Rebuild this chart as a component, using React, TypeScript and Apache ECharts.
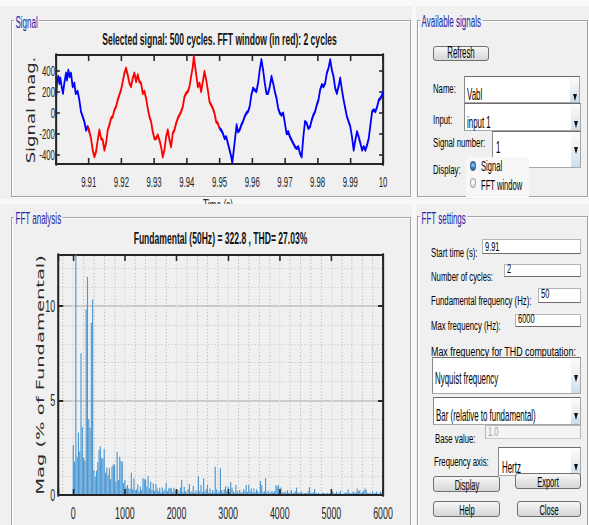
import React, { useEffect, useRef } from 'react';
import * as echarts from 'echarts';

// ---------------- data ----------------
const sigTitle = 'Selected signal: 500 cycles. FFT window (in red): 2 cycles';
const fftTitle = 'Fundamental (50Hz) = 322.8 , THD= 27.03%';
const sigStart = 9.9; // s
const fftStart = 9.91;
const fftEnd = 9.95;
// time offsets (ms after 9.90 s) and signal values
const signalTimeMs = [
  0, 0.31, 0.71, 1.02, 1.33, 1.73, 2.14, 2.55, 3.06, 3.37, 3.78, 4.18, 4.59, 5.1, 5.61, 6.02, 6.63, 7.14, 7.65, 8.16,
  8.67, 9.18, 9.69, 10.2, 10.71, 11.22, 11.73, 12.24, 12.76, 13.27, 13.78, 14.29, 14.8, 15.31, 15.82, 16.33, 16.84,
  17.35, 17.86, 18.37, 18.88, 19.39, 19.9, 20.41, 20.92, 21.43, 21.94, 22.45, 22.96, 23.47, 23.98, 24.49, 25.0, 25.51,
  26.02, 26.53, 27.04, 27.55, 28.06, 28.57, 29.08, 29.59, 30.1, 30.61, 31.12, 31.63, 32.14, 32.65, 33.16, 33.67, 34.18,
  34.69, 35.2, 35.71, 36.22, 36.73, 37.24, 37.76, 38.27, 38.78, 39.29, 39.8, 40.31, 40.82, 41.33, 41.84, 42.14, 42.55,
  42.96, 43.37, 43.88, 44.39, 44.9, 45.41, 45.92, 46.43, 46.94, 47.45, 47.96, 48.47, 48.98, 49.49, 50.0,
  50.51, 51.03, 51.54, 52.05, 52.56, 53.08, 53.59, 53.9, 54.31, 54.82, 55.23, 55.64, 56.15, 56.67, 57.18, 57.69, 58.21,
  58.72, 59.23, 59.74, 60.26, 60.77, 61.28, 61.79, 62.31, 62.82, 63.33, 63.85, 64.36, 64.87, 65.38, 65.9, 66.41, 66.92,
  67.44, 67.95, 68.46, 68.97, 69.49, 70.0, 70.51, 71.03, 71.54, 72.05, 72.56, 73.08, 73.59, 74.1, 74.62, 75.13, 75.64,
  76.15, 76.67, 77.18, 77.69, 78.21, 78.72, 79.23, 79.74, 80.26, 80.77, 81.28, 81.79, 82.31, 82.82, 83.33, 83.85, 84.36,
  84.87, 85.38, 85.9, 86.41, 86.92, 87.44, 87.95, 88.46, 88.97, 89.49, 90.0, 90.51, 91.03, 91.54, 92.05, 92.56, 93.08,
  93.59, 94.1, 94.62, 95.13, 95.64, 96.15, 96.67, 97.18, 97.69, 98.21, 98.72, 99.23, 99.74, 100.0,
];
const signalValue = [
  137, 297, 345, 281, 329, 249, 185, 281, 376, 313, 402, 345, 376, 249, 281, 185, 201, 121, 10, -38,
  -86, -166, -134, -182, -246, -357, -421, -373, -262, -166, -246, -262, -357, -293, -166, -118, -54,
  -38, 26, 57, 121, 169, 217, 297, 376, 424, 360, 281, 249, 329, 376, 297, 360, 297,
  281, 185, 201, 137, 41, -38, -86, -182, -246, -246, -214, -262, -325, -421, -357, -230, -166,
  -262, -325, -198, -166, -102, -54, -22, 10, 57, 153, 185, 201, 249, 345, 440, 536, 440,
  345, 249, 281, 201, 297, 392, 313, 217, 105, 73, 41, -6, -86, -102, -150,
  -166, -198, -246, -230, -293, -357, -421, -479, -373, -230, -118, -182, -166, -118, -86, -38, -6,
  10, 57, 169, 233, 217, 201, 281, 408, 504, 408, 281, 185, 185, 249, 345, 281, 201,
  137, 41, -6, -22, -6, -102, -198, -182, -230, -262, -293, -325, -341, -325, -389, -421, -230,
  -86, -102, -150, -134, -70, -22, 10, 73, 121, 217, 265, 249, 281, 376, 424, 504, 408,
  345, 233, 185, 249, 329, 217, 121, 41, -38, -86, -134, -230, -357, -262, -182, -230, -293,
  -357, -325, -357, -309, -246, -118, 10, 26, 10, 57, 121, 137, 169, 201,
];
const fftBinHz = 25; // 2-cycle window at 50 Hz
// harmonic magnitudes (% of fundamental), bins 0 .. 6000 Hz
const fftMag = [
  2.65, 1.76, 100, 2.03, 3.3, 2.3, 7.5, 3.58, 1.98, 1.82,
  9.82, 11.55, 4.02, 3.56, 9.12, 10.35, 1.32, 0.97, 1.29, 1.73,
  2.38, 2.56, 1.94, 1.94, 2.42, 1.18, 1.46, 1.06, 1.41, 0.83,
  1.5, 1.62, 1.59, 0.7, 2.29, 0.79, 2.03, 1.8, 1.76, 0.62,
  0.79, 0.41, 0.53, 0.35, 0.33, 1.18, 0.3, 0.88, 0.26, 0.3,
  0.56, 0.18, 0.44, 0.26, 0.88, 0.83, 0.83, 0.44, 1.0, 0.35,
  0.7, 0.26, 0.62, 0.21, 0.58, 0.35, 0.18, 0.39, 0.14, 0.4,
  0.2, 0.3, 0.65, 0.2, 0.35, 0.38, 0.35, 0.15, 0.38, 0.25,
  0.3, 0.26, 0.12, 0.4, 0.8, 0.15, 0.44, 0.2, 0.12, 0.3,
  0.58, 0.15, 0.2, 0.48, 0.1, 0.25, 0.15, 1.0, 0.2, 0.53,
  0.15, 0.88, 0.2, 0.3, 0.53, 0.12, 0.35, 0.1, 0.26, 0.15,
  1.5, 0.3, 0.12, 0.2, 1.41, 0.26, 0.15, 0.3, 0.48, 0.2,
  0.44, 0.15, 0.69, 0.4, 0.2, 0.12, 0.53, 0.2, 0.1, 0.26,
  0.15, 0.12, 0.3, 0.2, 0.53, 0.15, 0.53, 0.2, 0.35, 0.12,
  0.35, 0.15, 0.3, 0.2, 0.1, 0.74, 0.53, 0.15, 0.2, 0.9,
  0.12, 0.23, 0.1, 0.15, 0.23, 0.12, 0.2, 0.53, 0.44, 0.53,
  0.2, 0.4, 0.15, 0.1, 0.2, 0.12, 0.26, 0.1, 0.15, 0.26,
  0.1, 0.12, 0.2, 0.39, 0.15, 0.1, 0.12, 0.18, 0.08, 0.1,
  0.12, 0.08, 0.2, 0.41, 0.12, 0.1, 0.15, 0.32, 0.1, 0.08,
  0.12, 0.08, 0.06, 0.1, 0.12, 0.08, 0.06, 0.12, 0.08, 0.1,
  0.06, 0.18, 0.1, 0.08, 0.18, 0.06, 0.1, 0.23, 0.08, 0.06,
  0.12, 0.1, 0.15, 0.3, 0.1, 0.08, 0.12, 0.18, 0.1, 0.15,
  0.35, 0.2, 0.26, 0.1, 0.15, 0.2, 0.35, 0.26, 0.1, 0.08,
  0.12, 0.06, 0.18, 0.08, 0.1, 0.18, 0.06, 0.08, 0.18, 0.1,
  0.12,
];
const sigXTicks = [9.91, 9.92, 9.93, 9.94, 9.95, 9.96, 9.97, 9.98, 9.99, 10];
const sigYTicks = [-400, -200, 0, 200, 400];
const fftXTicks = [0, 1000, 2000, 3000, 4000, 5000, 6000];
const fftYTicks = [0, 5, 10];
const fftMinorY = [1, 2, 3, 4, 6, 7, 8, 9, 11, 12];

// ---------------- layout helpers ----------------
const W = 589;
const H = 525;
const WD = 1133; // design width of the horizontally condensed chart layer
const S = W / WD;
const D = (x: number) => x / S;
const SANS = '"Liberation Sans", Arial, Helvetica, sans-serif';
const DEJAVU = '"DejaVu Sans", Verdana, sans-serif';
const AX = '#262626';
const LH = 0.8; // line-height factor for GUI texts
const ASC = 0.905 - (1.117 - LH) / 2; // baseline offset from line-box top, in em

const hit = (list: number[], v: number) => list.find((t) => Math.abs(t - v) < 1e-6);

function buildOption() {
  const pts = signalTimeMs.map((ms, i) => [sigStart + ms / 1000, signalValue[i]]);
  const ms0 = (fftStart - sigStart) * 1000;
  const ms1 = (fftEnd - sigStart) * 1000;
  const blueA = pts.filter((_, i) => signalTimeMs[i] <= ms0 + 0.25);
  const red = pts.filter((_, i) => signalTimeMs[i] >= ms0 - 0.35 && signalTimeMs[i] <= ms1 + 0.01);
  const blueB = pts.filter((_, i) => signalTimeMs[i] >= ms1 - 0.01);
  const bars = fftMag.map((m, i) => [i * fftBinHz, m]);

  const minorX: number[] = [];
  for (let f = -200; f < 6000; f += 200) if (f % 1000 !== 0) minorX.push(f);

  const lineSeries = (data: number[][], color: string) => ({
    type: 'line',
    xAxisIndex: 0,
    yAxisIndex: 0,
    data,
    showSymbol: false,
    symbol: 'none',
    clip: true,
    lineStyle: { color, width: 3.4, join: 'round' },
    silent: true,
    z: 2,
  });

  const xBase = (extra: any) => ({
    type: 'value',
    axisLine: { show: true, onZero: false, lineStyle: { color: AX, width: 2 } },
    axisTick: { show: true, inside: true, length: 6, lineStyle: { color: AX, width: 3 } },
    splitLine: { show: false },
    ...extra,
  });
  const yBase = (extra: any) => ({
    type: 'value',
    axisLine: { show: true, onZero: false, lineStyle: { color: AX, width: 4 } },
    axisTick: { show: true, inside: true, length: 8, lineStyle: { color: AX, width: 1.6 } },
    splitLine: { show: false },
    ...extra,
  });

  return {
    animation: false,
    grid: [
      { left: D(56), top: 55, width: D(327), height: 109, outerBoundsMode: 'none' },
      { left: D(58.3), top: 255, width: D(324.7), height: 240, outerBoundsMode: 'none' },
    ],
    xAxis: [
      xBase({
        gridIndex: 0, position: 'bottom', min: 9.9, max: 10, interval: 0.01, z: 3,
        axisLabel: {
          show: true, margin: 10, fontSize: 15, fontFamily: SANS, color: AX,
          formatter: (v: number) => { const h = hit(sigXTicks, v); return h === undefined ? '' : String(h); },
        },
      }),
      xBase({ gridIndex: 0, position: 'top', min: 9.9, max: 10, interval: 0.01, axisLabel: { show: false } }),
      xBase({
        gridIndex: 1, position: 'bottom', min: -290, max: 6000, z: 3,
        axisLabel: {
          show: true, margin: 10, fontSize: 17, fontFamily: SANS, color: AX,
          formatter: (v: number) => { const h = hit(fftXTicks, v); return h === undefined ? '' : String(h); },
        },
      }),
      xBase({
        gridIndex: 1, position: 'top', min: -290, max: 6000, axisLabel: { show: false },
        splitLine: { show: true, lineStyle: { color: '#e3e3e3', width: 2 } },
      }),
    ],
    yAxis: [
      yBase({
        gridIndex: 0, position: 'left', min: -490, max: 550, z: 3,
        axisTick: { show: true, inside: true, length: 7.5, lineStyle: { color: AX, width: 1.6 } },
        axisLabel: {
          show: true, margin: 2, fontSize: 15, fontFamily: SANS, color: AX,
          formatter: (v: number) => { const h = hit(sigYTicks, v); return h === undefined ? '' : String(h); },
        },
      }),
      yBase({
        gridIndex: 0, position: 'right', min: -490, max: 550, axisLabel: { show: false },
        axisTick: { show: true, inside: true, length: 7.5, lineStyle: { color: AX, width: 1.6 } },
      }),
      yBase({
        gridIndex: 1, position: 'left', min: 0, max: 12.7, splitNumber: 2, z: 3,
        axisTick: { show: true, inside: true, length: 9.5, lineStyle: { color: AX, width: 2 } },
        axisLabel: {
          show: true, margin: 6, fontSize: 17, fontFamily: SANS, color: AX,
          formatter: (v: number) => { const h = hit(fftYTicks, v); return h === undefined ? '' : String(h); },
        },
      }),
      yBase({
        gridIndex: 1, position: 'right', min: 0, max: 12.7, splitNumber: 2, axisLabel: { show: false },
        axisTick: { show: true, inside: true, length: 9.5, lineStyle: { color: AX, width: 2 } },
        splitLine: { show: true, lineStyle: { color: '#cbcbcb', width: 2 } },
      }),
    ],
    series: [
      lineSeries(blueA, '#0000ff'),
      lineSeries(red, '#ff0000'),
      lineSeries(blueB, '#0000ff'),
      {
        type: 'bar',
        xAxisIndex: 2,
        yAxisIndex: 2,
        data: bars,
        barWidth: 2.2,
        clip: true,
        silent: true,
        z: 2,
        itemStyle: { color: '#4a98d4' },
        markLine: {
          z: 1,
          silent: true,
          animation: false,
          symbol: ['none', 'none'],
          label: { show: false },
          emphasis: { disabled: true },
          data: [
            ...minorX.map((v) => ({ xAxis: v, lineStyle: { color: '#b8b8b8', width: 1.8, type: [1.2, 2.1] } })),
            ...fftMinorY.map((v) => ({ yAxis: v, lineStyle: { color: '#b8b8b8', width: 1, type: [2, 4.4] } })),
          ],
        },
      },
    ],
    graphic: [
      {
        type: 'text', x: D(219.5), y: 39.5, silent: true,
        style: { text: sigTitle, font: `bold 16.5px ${SANS}`, fill: '#141414', align: 'center', verticalAlign: 'middle' },
      },
      {
        type: 'text', x: D(220.5), y: 238.5, silent: true,
        style: { text: fftTitle, font: `bold 16.5px ${SANS}`, fill: '#141414', align: 'center', verticalAlign: 'middle' },
      },
      {
        type: 'text', x: D(31), y: 110, rotation: Math.PI / 2, scaleY: 1.35, silent: true,
        style: { text: 'Signal mag.', font: `18px ${DEJAVU}`, fill: '#2a2a2a', align: 'center', verticalAlign: 'middle' },
      },
      {
        type: 'text', x: D(41), y: 375, rotation: Math.PI / 2, silent: true,
        style: { text: 'Mag (% of Fundamental)', font: `19.5px ${DEJAVU}`, fill: '#2a2a2a', align: 'center', verticalAlign: 'middle' },
      },
      {
        type: 'text', x: D(218), y: 197, silent: true,
        style: { text: 'Time (s)', font: `16px ${SANS}`, fill: '#2a2a2a', align: 'center', verticalAlign: 'top' },
      },
    ],
  };
}

// ---------------- GUI pieces ----------------
const textStyle = (size: number, sx: number, color = '#000'): React.CSSProperties => ({
  fontSize: size, lineHeight: `${size * LH}px`, whiteSpace: 'nowrap', transform: `scaleX(${sx})`,
  transformOrigin: '0 0', color, fontFamily: SANS,
});

type LP = { x: number; base: number; text: string; size?: number; sx?: number; color?: string };
function Label({ x, base, text, size = 12.5, sx = 0.62, color = '#000' }: LP) {
  return <div style={{ position: 'absolute', left: x, top: base - ASC * size, ...textStyle(size, sx, color) }}>{text}</div>;
}

function Panel({ x, y, w, h, title, base }: { x: number; y: number; w: number; h: number; title: string; base: number }) {
  const size = 16;
  return (
    <>
      <div
        style={{
          position: 'absolute', left: x, top: y, width: w, height: h, boxSizing: 'border-box',
          border: '1px solid #a2a2a2', boxShadow: '1px 1px 0 #ffffff, inset 1px 1px 0 #ffffff',
        }}
      />
      <div
        style={{
          position: 'absolute', left: x + 3, top: base - ASC * size, background: '#f0f0f0', padding: '1px 3px',
          marginTop: -1, ...textStyle(size, 0.5, '#2424a6'),
        }}
      >
        {title}
      </div>
    </>
  );
}

function Drop({ x, y, w, h, text, base, ay, tx = 2 }: { x: number; y: number; w: number; h: number; text: string; base: number; ay: number; tx?: number }) {
  const size = 17;
  return (
    <div
      style={{
        position: 'absolute', left: x, top: y, width: w, height: h, boxSizing: 'border-box', background: '#ffffff',
        border: '1px solid #a8a8a8', borderTopColor: '#6c6c6c', borderLeftColor: '#8a8a8a',
      }}
    >
      <div style={{ position: 'absolute', right: 0, top: 0, bottom: 0, width: 9, background: 'linear-gradient(#fbfbfb, #e9eef3 55%, #c9def0)' }} />
      <div
        style={{
          position: 'absolute', right: 2, top: ay - y - 4, width: 0, height: 0,
          borderLeft: '2.5px solid transparent', borderRight: '2.5px solid transparent', borderTop: '7px solid #111',
        }}
      />
      <div style={{ position: 'absolute', left: tx, top: base - y - 1 - ASC * size, ...textStyle(size, 0.465) }}>{text}</div>
    </div>
  );
}

function Edit({ x, y, w, h, text, base, disabled = false }: { x: number; y: number; w: number; h: number; text: string; base: number; disabled?: boolean }) {
  const size = 12;
  return (
    <div
      style={{
        position: 'absolute', left: x, top: y, width: w, height: h, boxSizing: 'border-box',
        background: disabled ? '#f4f4f4' : '#ffffff', border: '1px solid #b4b4b4', borderBottomColor: disabled ? '#c8c8c8' : '#6e6e6e',
      }}
    >
      <div style={{ position: 'absolute', left: 2, top: base - y - 1 - ASC * size, ...textStyle(size, 0.62, disabled ? '#a0a0a0' : '#000') }}>
        {text}
      </div>
    </div>
  );
}

function Btn({ x, y, w, h, text, size = 15, sx = 0.5 }: { x: number; y: number; w: number; h: number; text: string; size?: number; sx?: number }) {
  const base = h - 1.2 - 0.0535 * size;
  return (
    <div
      style={{
        position: 'absolute', left: x, top: y, width: w, height: h, boxSizing: 'border-box', borderRadius: 3,
        border: '1px solid #707070', background: 'linear-gradient(#f7f7f7, #e6e6e6 50%, #d6d6d6)',
      }}
    >
      <div
        style={{
          position: 'absolute', left: '50%', top: base - 1 - ASC * size, ...textStyle(size, sx),
          transform: `scaleX(${sx}) translateX(-50%)`,
        }}
      >
        {text}
      </div>
    </div>
  );
}

function Radio({ cx, cy, on }: { cx: number; cy: number; on: boolean }) {
  return (
    <div
      style={{
        position: 'absolute', left: cx - 3.4, top: cy - 5, width: 6.8, height: 10, boxSizing: 'border-box', borderRadius: '50%',
        border: on ? '1px solid #4a6a8a' : '1px solid #a8a8a8',
        background: on ? 'radial-gradient(circle at 50% 40%, #9fdcff 0%, #2b86d6 45%, #16508f 100%)' : 'radial-gradient(circle at 50% 40%, #ffffff 0%, #e4e4e4 60%, #c8c8c8 100%)',
      }}
    />
  );
}

export default function App() {
  const ref = useRef<HTMLDivElement>(null);
  useEffect(() => {
    if (!ref.current) return;
    const chart = echarts.init(ref.current, undefined, { renderer: 'svg' });
    chart.setOption(buildOption() as any);
    return () => chart.dispose();
  }, []);

  return (
    <div style={{ position: 'fixed', left: 0, top: 0, width: W, height: H, background: '#f0f0f0', overflow: 'hidden', fontFamily: SANS }}>
      <div style={{ position: 'absolute', left: 0, top: 0, width: W, height: 6, background: '#fafafa' }} />
      <div style={{ position: 'absolute', left: 0, top: 198.5, width: W, height: 5.5, background: '#f8f8f8' }} />
      <div style={{ position: 'absolute', left: 411.8, top: 0, width: 4.5, height: H, background: '#f8f8f8' }} />

      <Panel x={11} y={20} w={399.7} h={177} title="Signal" base={28.5} />
      <Panel x={416.7} y={20} w={171.3} h={177} title="Available signals" base={28.3} />
      <Panel x={11} y={216.7} w={399.7} h={330} title="FFT analysis" base={225} />
      <Panel x={416.7} y={215.7} w={171.3} h={330} title="FFT settings" base={225} />

      {/* Available signals */}
      <Btn x={433} y={45.7} w={56} h={15} text="Refresh" size={16} sx={0.49} />
      <Label x={433} base={93} text="Name:" />
      <Drop x={464} y={76} w={116} h={27} text="Vabl" base={100.8} ay={97} />
      <Label x={433} base={124} text="Input:" />
      <Drop x={464} y={103} w={116.5} h={28} text="input 1" base={128.5} ay={124} />
      <Label x={433} base={147.5} text="Signal number:" />
      <Label x={433} base={174} text="Display:" />
      <Drop x={492} y={131} w={88.5} h={37} text="1" base={153.3} ay={150} tx={3} />
      <div style={{ position: 'absolute', left: 466, top: 157, width: 63, height: 40, background: '#f7f7f7' }} />
      <Radio cx={473} cy={165.5} on={true} />
      <Label x={481} base={171.6} text="Signal" size={15.5} sx={0.49} />
      <Radio cx={473} cy={182.5} on={false} />
      <Label x={481} base={190.2} text="FFT window" size={15.5} sx={0.49} />

      {/* FFT settings */}
      <Label x={430.7} base={257} text="Start time (s):" />
      <Edit x={481.7} y={239.3} w={99} h={14.7} text="9.91" base={252.2} />
      <Label x={430.7} base={281.5} text="Number of cycles:" />
      <Edit x={504} y={263.7} w={77} h={13} text="2" base={274} />
      <Label x={430.7} base={305} text="Fundamental frequency (Hz):" />
      <Edit x={538} y={288.3} w={43} h={14.4} text="50" base={298.5} />
      <Label x={430.7} base={330.5} text="Max frequency (Hz):" />
      <Edit x={515} y={314} w={65.7} h={12.7} text="6000" base={324} />
      <Label x={430.7} base={356.5} text="Max frequency for THD computation:" sx={0.71} />
      <Drop x={432.3} y={356.7} w={148.4} h={37.3} text="Nyquist frequency" base={385} ay={378} tx={1.7} />
      <Drop x={433} y={397} w={147.7} h={28} text="Bar (relative to fundamental)" base={422} ay={416} />
      <Label x={435} base={443} text="Base value:" />
      <Edit x={485} y={425} w={95.7} h={14} text="1.0" base={437} disabled={true} />
      <Label x={434} base={466} text="Frequency axis:" />
      <Btn x={433.3} y={476} w={66.7} h={16} text="Display" />
      <Drop x={498.3} y={446.7} w={82.7} h={29.3} text="Hertz" base={473.5} ay={467} tx={2.7} />
      <Btn x={515} y={473} w={66} h={16} text="Export" />
      <Btn x={433.3} y={501} w={66.7} h={16} text="Help" />
      <Btn x={516.7} y={501} w={64.3} h={16} text="Close" />

      {/* chart layer, condensed horizontally like the reference GUI */}
      <div style={{ position: 'absolute', left: 0, top: 0, width: WD, height: H, transform: `scaleX(${S})`, transformOrigin: '0 0', pointerEvents: 'none' }}>
        <div ref={ref} style={{ width: WD, height: H }} />
      </div>
      {/* panel edge hiding the lower part of the time-axis name */}
      <div style={{ position: 'absolute', left: 190, top: 203.6, width: 60, height: 10, background: '#f0f0f0' }} />
    </div>
  );
}
